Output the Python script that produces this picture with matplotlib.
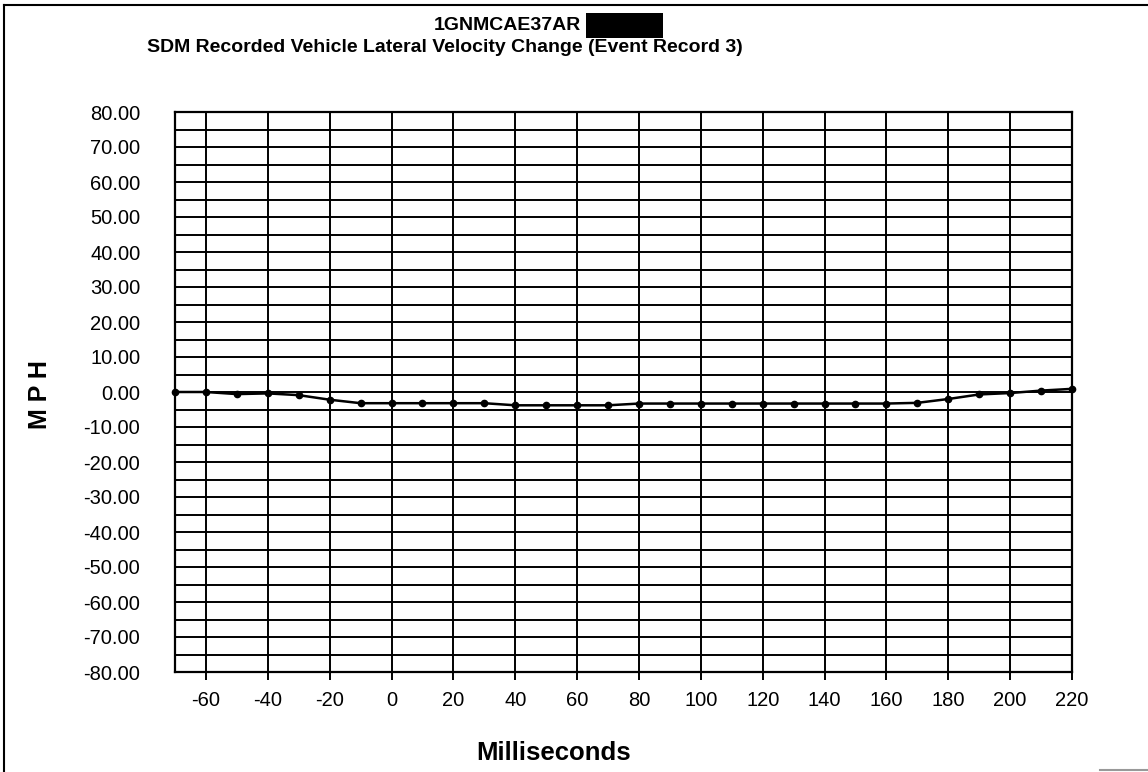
import matplotlib
matplotlib.use("Agg")
import matplotlib.pyplot as plt
from matplotlib.patches import Rectangle
from matplotlib.lines import Line2D

# Data
time_ms = [-70, -60, -50, -40, -30, -20, -10, 0, 10, 20, 30, 40, 50, 60, 70,
           80, 90, 100, 110, 120, 130, 140, 150, 160, 170, 180, 190, 200, 210, 220]
lateral_mph = [0.0, 0.0, -0.6, -0.4, -0.9, -2.2, -3.2, -3.2, -3.2, -3.2, -3.2,
               -3.8, -3.8, -3.8, -3.8, -3.3, -3.3, -3.3, -3.3, -3.3, -3.3, -3.3,
               -3.3, -3.3, -3.1, -2.0, -0.7, -0.3, 0.4, 0.9]
x_ticks = list(range(-60, 221, 20))
y_ticks = list(range(-80, 81, 10))
y_grid = list(range(-80, 81, 5))

vin_text = "1GNMCAE37AR"
title_text = "SDM Recorded Vehicle Lateral Velocity Change (Event Record 3)"
x_label = "Milliseconds"
y_label = "M P H"

plt.rcParams['font.family'] = ['Liberation Sans', 'DejaVu Sans']

W, H = 1148, 772
fig = plt.figure(figsize=(W / 100, H / 100), dpi=100)

left, right, top, bottom = 175, 1072, 112, 672
ax = fig.add_axes([left / W, 1 - bottom / H, (right - left) / W, (bottom - top) / H])

ax.set_xlim(-70, 220)
ax.set_ylim(-80, 80)

for yv in y_grid:
    ax.axhline(yv, color='black', lw=1.4, zorder=1)
for xv in x_ticks:
    ax.axvline(xv, color='black', lw=1.4, zorder=1)

ax.plot(time_ms, lateral_mph, color='black', lw=1.8, marker='o', markersize=4.5,
        zorder=3, clip_on=False)

ax.set_xticks(x_ticks)
ax.set_xticklabels([str(v) for v in x_ticks])
ax.set_yticks(y_ticks)
ax.set_yticklabels([f"{v:.2f}" for v in y_ticks])
ax.tick_params(axis='x', direction='out', length=6, width=1.4, pad=8, labelsize=14.5)
ax.tick_params(axis='y', length=0, pad=25, labelsize=14.5)

for s in ax.spines.values():
    s.set_linewidth(1.6)
    s.set_color('black')

fig.text(554 / W, 1 - 753 / H, x_label, ha='center', va='center', fontsize=18.5,
         fontweight='bold')
fig.text(40 / W, 1 - 395 / H, y_label, rotation=90, fontsize=18, fontweight='bold',
         ha='center', va='center')

# Titles
fig.text(581 / W, 1 - 25 / H, vin_text, ha='right', va='center', fontsize=14,
         fontweight='bold')
fig.patches.append(Rectangle((586 / W, 1 - 37.5 / H), 77 / W, 24.5 / H,
                             transform=fig.transFigure, facecolor='black',
                             edgecolor='none'))
fig.text(445 / W, 1 - 47 / H, title_text, ha='center', va='center', fontsize=14,
         fontweight='bold')

# Outer border (left, top) as in the scanned page
for xs, ys, c in [([4, 4], [5, 772], 'black'), ([4, W], [5, 5], 'black'),
                  ([1100, W], [770, 770], '#999999')]:
    fig.lines.append(Line2D([x / W for x in xs], [1 - y / H for y in ys],
                            transform=fig.transFigure, color=c, lw=1.5))

fig.savefig("out.png", dpi=100, facecolor='white')
